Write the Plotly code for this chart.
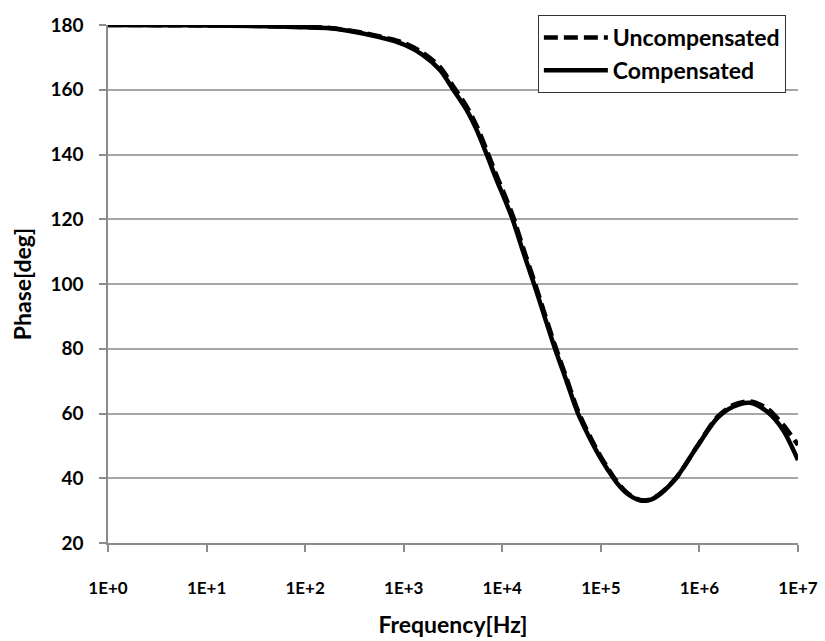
import plotly.graph_objects as go

# log10(frequency) sample points
exp_comp = [0.0, 0.5, 1.0, 1.5, 1.745, 2.0, 2.252, 2.587, 2.861, 3.013, 3.196, 3.368, 3.503, 3.639,
            3.740, 3.842, 3.943, 4.028, 4.104, 4.211, 4.322, 4.428, 4.535, 4.652, 4.768, 4.890,
            4.991, 5.073, 5.164, 5.265, 5.397, 5.5, 5.6, 5.772, 5.975, 6.178, 6.341, 6.513,
            6.685, 6.848, 7.0]
phase_comp = [180.0, 179.95, 179.85, 179.7, 179.5, 179.3, 179.0, 177.4, 175.4, 173.8, 170.7, 166.1, 160.0, 153.7,
              147.6, 140.0, 132.1, 125.9, 120.0, 110.0, 100.0, 90.0, 80.0, 70.0, 60.0, 52.2,
              46.5, 42.5, 38.5, 35.3, 33.2, 33.3, 35.1, 40.4, 49.7, 58.5, 62.1, 63.3,
              60.6, 54.9, 45.6]

exp_unc = [0.0, 0.5, 1.0, 1.5, 1.745, 2.0, 2.252, 2.587, 2.861, 3.013, 3.196, 3.368, 3.503, 3.639,
           3.740, 3.842, 3.943, 4.028, 4.104, 4.211, 4.322, 4.428, 4.535, 4.652, 4.768, 4.890,
           4.991, 5.073, 5.164, 5.265, 5.397, 5.5, 5.6, 5.772, 5.975, 6.178, 6.341, 6.513,
           6.685, 6.848, 7.0]
phase_unc = [180.0, 179.95, 179.87, 179.72, 179.55, 179.38, 179.1, 177.6, 175.7, 174.3, 171.4, 167.0, 161.0, 154.8,
             148.8, 141.3, 133.4, 127.2, 121.3, 111.2, 101.1, 91.0, 81.0, 70.9, 60.8, 52.9,
             47.1, 43.0, 38.9, 35.5, 33.3, 33.4, 35.2, 40.4, 49.8, 58.8, 62.6, 63.7,
             61.6, 56.5, 50.3]

tick_exps = [0, 1, 2, 3, 4, 5, 6, 7]
tick_text = ["1E+0", "1E+1", "1E+2", "1E+3", "1E+4", "1E+5", "1E+6", "1E+7"]
y_ticks = [20, 40, 60, 80, 100, 120, 140, 160, 180]

freq_comp = [10 ** e for e in exp_comp]
freq_unc = [10 ** e for e in exp_unc]
tick_vals = [10 ** e for e in tick_exps]

FONT = "Lato"

fig = go.Figure()
fig.add_trace(go.Scatter(
    x=freq_unc, y=phase_unc, name="Uncompensated", mode="lines",
    line=dict(color="black", width=4.5, dash="14px,6px", shape="spline", smoothing=0.8),
    cliponaxis=False,
))
fig.add_trace(go.Scatter(
    x=freq_comp, y=phase_comp, name="Compensated", mode="lines",
    line=dict(color="black", width=4.5, shape="spline", smoothing=0.8),
    cliponaxis=False,
))

fig.update_layout(
    width=825, height=641,
    margin=dict(l=108, r=27, t=25, b=98),
    paper_bgcolor="white", plot_bgcolor="white",
    font=dict(family=FONT, size=16, color="black"),
    showlegend=True,
    legend=dict(
        x=0.623, y=1.0193, xanchor="left", yanchor="top",
        bgcolor="white", bordercolor="#333333", borderwidth=1,
        font=dict(family=FONT, size=23, color="black", weight="bold"),
        itemwidth=64, tracegroupgap=0,
    ),
    xaxis=dict(
        type="log", range=[0, 7], automargin=False,
        tickmode="array", tickvals=tick_vals, ticktext=tick_text,
        showgrid=False, zeroline=False,
        showline=True, linecolor="#8c8c8c", linewidth=1.5,
        ticks="outside", ticklen=7, tickcolor="#8c8c8c", tickwidth=1.5,
        ticklabelstandoff=22,
        tickfont=dict(family=FONT, size=17, color="black", weight="bold"),
        title=dict(text="Frequency[Hz]", standoff=20,
                   font=dict(family=FONT, size=23, color="black", weight="bold")),
    ),
    yaxis=dict(
        range=[20, 180], automargin=False,
        tickmode="array", tickvals=y_ticks,
        showgrid=True, gridcolor="#a6a6a6", gridwidth=1.5, zeroline=False,
        showline=True, linecolor="#8c8c8c", linewidth=1.5,
        ticks="outside", ticklen=7, tickcolor="#8c8c8c", tickwidth=1.5,
        ticklabelstandoff=12,
        tickfont=dict(family=FONT, size=19, color="black", weight="bold"),
        title=dict(text="Phase[deg]", standoff=12,
                   font=dict(family=FONT, size=23, color="black", weight="bold")),
    ),
)

fig.write_html("out.html")
